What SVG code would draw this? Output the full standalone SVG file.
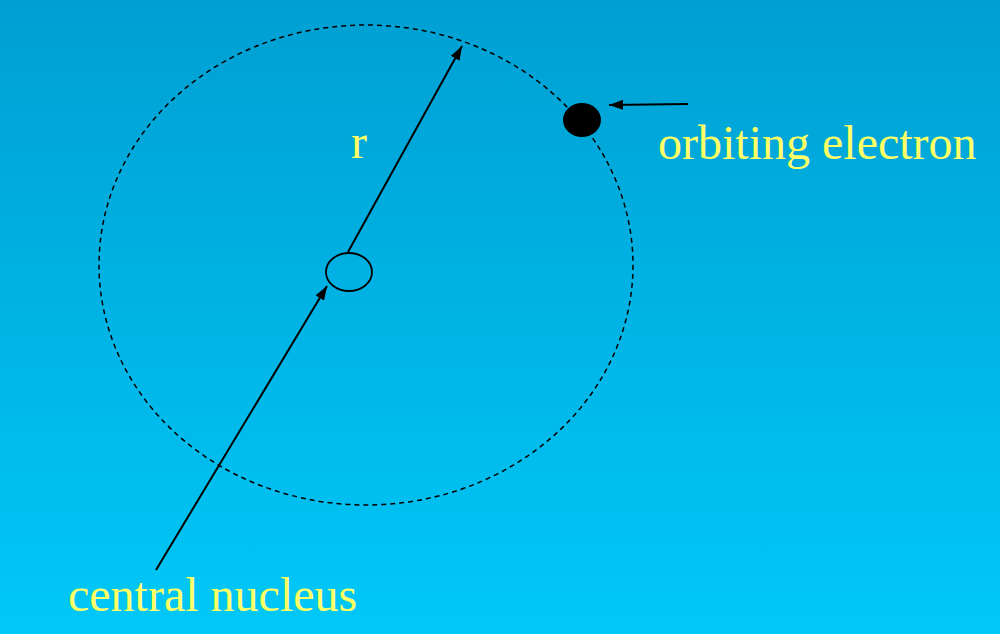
<svg xmlns="http://www.w3.org/2000/svg" width="1000" height="634" viewBox="0 0 1000 634">
<defs>
<linearGradient id="bg" x1="0" y1="0" x2="0" y2="1">
<stop offset="0" stop-color="#009FD2"/>
<stop offset="1" stop-color="#00C8F8"/>
</linearGradient>
<marker id="ah" markerWidth="14" markerHeight="10" refX="14" refY="5" orient="auto" markerUnits="userSpaceOnUse">
<path d="M0,0 L14,5 L0,10 Z" fill="#000"/>
</marker>
<style>
.lbl{font-family:"Liberation Serif","Times New Roman",serif;font-size:48px;fill:#FFFF66}
.conn{stroke:#000;stroke-width:2;fill:none;marker-end:url(#ah)}
</style>
</defs>
<rect width="1000" height="634" fill="url(#bg)"/>
<g id="orbit">
<ellipse cx="366" cy="265" rx="267" ry="240" fill="none" stroke="#000" stroke-width="1.5" stroke-dasharray="5,4"/>
</g>
<g id="nucleus">
<ellipse cx="349" cy="272" rx="23" ry="19" fill="none" stroke="#000" stroke-width="1.8"/>
</g>
<g id="electron">
<ellipse cx="582" cy="120" rx="19" ry="17" fill="#000"/>
</g>
<g id="connectors">
<line class="conn" x1="348" y1="252" x2="462" y2="46"/>
<line class="conn" x1="156" y1="570" x2="327" y2="286"/>
<line class="conn" x1="688" y1="104" x2="609" y2="105"/>
</g>
<g id="labels">
<text class="lbl" x="351" y="158">r</text>
<text class="lbl" x="658" y="159">orbiting electron</text>
<text class="lbl" x="68" y="611">central nucleus</text>
</g>
</svg>
